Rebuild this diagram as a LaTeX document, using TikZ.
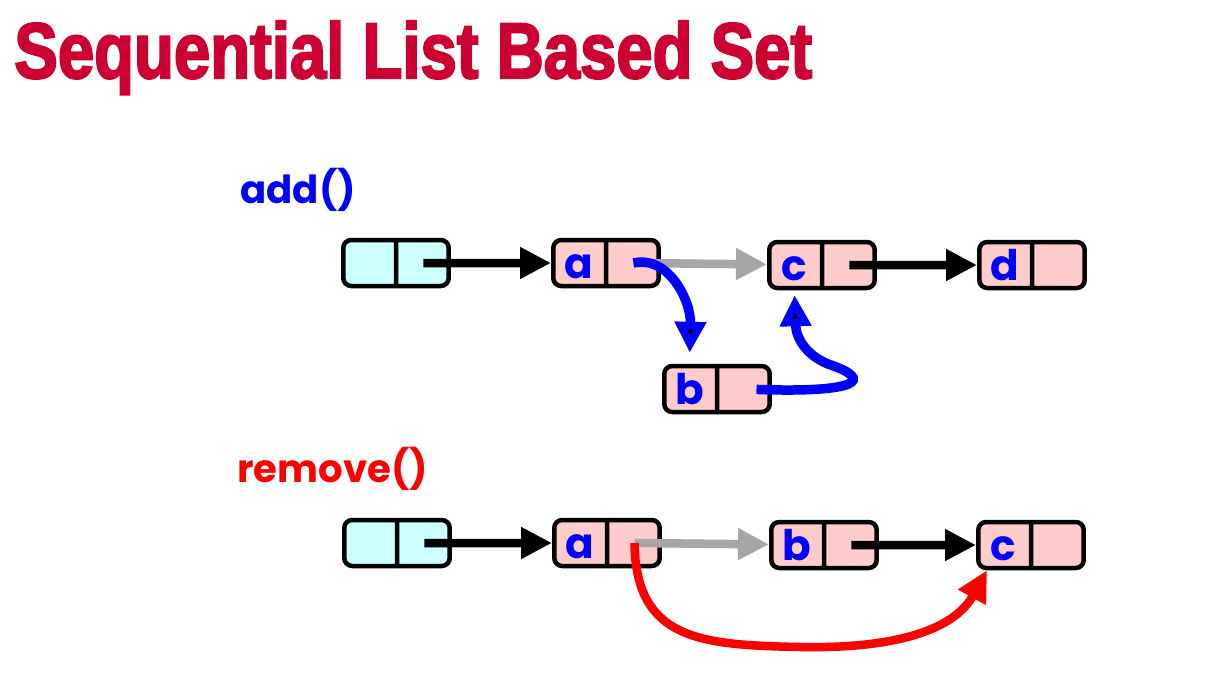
\documentclass[tikz,border=0pt]{standalone}
\usepackage{fontspec}
\usepackage{graphicx}
\usepackage{xcolor}
\usepackage{tikz}
\usetikzlibrary{arrows.meta}
\usetikzlibrary{shapes.multipart}
\usetikzlibrary{calc}
\newfontfamily\titlefont[BoldFeatures={FakeBold=3}]{Liberation Sans}
\newfontfamily\labelfont{Poppins}
\definecolor{titlered}{RGB}{204,0,51}
\definecolor{cellpink}{RGB}{255,204,204}
\definecolor{cellcyan}{RGB}{204,255,255}
\definecolor{linkgray}{RGB}{166,166,166}
\tikzset{
  cell/.style={rectangle split, rectangle split horizontal, rectangle split parts=2, draw, line width=0.09cm, rounded corners=0.16cm, fill=#1, text width=1.01cm, align=center, inner xsep=0pt, inner ysep=0pt, text height=0.76cm, text depth=0.16cm, font=\labelfont\bfseries\fontsize{24}{26}\selectfont, text=blue},
  cell/.default=cellpink,
  oplabel/.style={font=\labelfont\bfseries\fontsize{22}{24}\selectfont, text=#1, inner sep=0pt, anchor=base west},
  link/.style={-{Triangle[length=0.62cm,width=0.6cm]}, line width=0.17cm, draw=#1},
  link/.default=black,
  newlink/.style={link=blue, line width=0.19cm},
  dellink/.style={link=red, line width=0.17cm},
}

\begin{document}
\begin{tikzpicture}[x=0.02cm, y=-0.02cm]
  \path[use as bounding box, fill=white] (0,0) rectangle (1215,697);
  \node[anchor=base west, inner sep=0pt, text=titlered] (title) at (14,78)
    {\resizebox{15.96cm}{1.14cm}{\titlefont\bfseries Sequential List Based Set}};
  \node[oplabel=blue] (addlab) at (240,203) {add()};
  \node[oplabel=red] (remlab) at (237,482) {remove()};
  % add() row
  \node[cell=cellcyan] (h1) at (396,263) {~\nodepart{two}~};
  \foreach \nm/\lab/\px/\py in {a1/a/606/263, c1/c/822/265, d1/d/1032/265, b1/b/717/389} {
    \node[cell] (\nm) at (\px,\py) {\lab\nodepart{two}~};
  }
  % remove() row
  \node[cell=cellcyan] (h2) at (397,543) {~\nodepart{two}~};
  \foreach \nm/\lab/\px/\py in {a2/a/607/543, b2/b/824/545, c2/c/1031/545} {
    \node[cell] (\nm) at (\px,\py) {\lab\nodepart{two}~};
  }
  \foreach \nm in {h1,a1,c1,b1,h2,a2,b2}
    \coordinate (\nm-p) at ($(\nm.one split)!.5!(\nm.east)$);

  \draw[link] (h1-p) -- (a1);
  \draw[link=linkgray] (a1-p) -- (c1);
  \draw[link] (c1-p) -- (d1);
  \draw[newlink, shorten >=0.22cm] (a1-p) .. controls (668,255) and (691,300) .. ($(b1.north west)!.5!(b1.one split north)$);
  \draw[newlink, shorten <=0.24cm, shorten >=0.1cm] (b1-p) .. controls (858,393) and (876,380) .. (828,364)
    .. controls (806,355) and (796,338) .. ($(c1.south west)!.5!(c1.one split south)$);

  \draw[link] (h2-p) -- (a2);
  \draw[link=linkgray] (a2-p) -- (b2);
  \draw[link] (b2-p) -- (c2);
  \draw[dellink] (a2-p) .. controls (636,640) and (700,645) .. (800,647)
    .. controls (900,649) and (955,628) .. ($(c2.south west)!.2!(c2.one split south)$);
\end{tikzpicture}
\end{document}
